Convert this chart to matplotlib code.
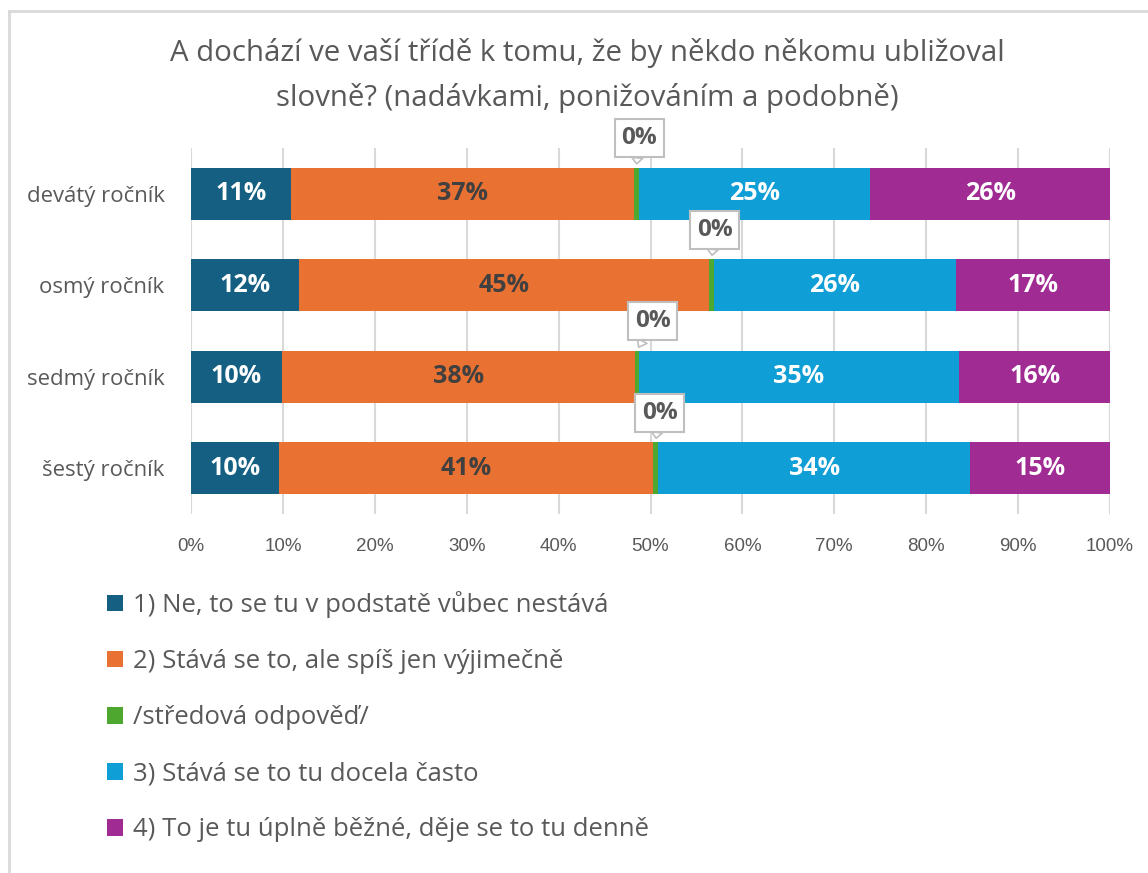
import matplotlib
matplotlib.use("Agg")
import matplotlib.pyplot as plt
from matplotlib.lines import Line2D
import numpy as np

plt.rcParams['font.family'] = ['Open Sans', 'DejaVu Sans']

categories = ["devátý ročník", "osmý ročník", "sedmý ročník", "šestý ročník"]
series_names = [
    "1) Ne, to se tu v podstatě vůbec nestává",
    "2) Stává se to, ale spíš jen výjimečně",
    "/středová odpověď/",
    "3) Stává se to tu docela často",
    "4) To je tu úplně běžné, děje se to tu denně",
]
values = [
    [10.9, 11.8, 9.9, 9.6],    # 1)
    [37.3, 44.6, 38.4, 40.7],  # 2)
    [0.5, 0.5, 0.4, 0.5],      # středová
    [25.2, 26.3, 34.9, 34.0],  # 3)
    [26.1, 16.8, 16.4, 15.2],  # 4)
]
labels = [
    ["11%", "12%", "10%", "10%"],
    ["37%", "45%", "38%", "41%"],
    ["0%", "0%", "0%", "0%"],
    ["25%", "26%", "35%", "34%"],
    ["26%", "17%", "16%", "15%"],
]
tick_values = list(range(0, 101, 10))

colors = ["#156082", "#E97132", "#4EA72E", "#0F9ED5", "#A02B93"]
label_colors = ["white", "#404040", "#595959", "white", "white"]
callout_dx = [3, 3, 16, 4]  # px offsets of the small-segment callouts

W, H = 1148, 873
fig = plt.figure(figsize=(W / 100, H / 100), dpi=100)
ax = fig.add_axes([191 / W, 1 - 514 / H, (1110 - 191) / W, (514 - 148) / H])

y = np.arange(len(categories))
left = np.zeros(len(categories))
bar_h = 0.565
for i, (name, vals) in enumerate(zip(series_names, values)):
    vals = np.array(vals)
    ax.barh(y, vals, left=left, height=bar_h, color=colors[i], label=name, zorder=3)
    for j in range(len(categories)):
        if i == 2:
            xc = left[j] + vals[j] / 2
            ax.annotate(labels[i][j], xy=(xc, y[j] - bar_h / 2),
                        xytext=(callout_dx[j] * 0.72, 17), textcoords='offset points',
                        ha='center', va='baseline', fontsize=17.5, fontweight='bold',
                        color=label_colors[i], zorder=6,
                        bbox=dict(boxstyle='square,pad=0.28', fc='white', ec='#bfbfbf', lw=1.5),
                        arrowprops=dict(arrowstyle='wedge,tail_width=0.45,shrink_factor=0.5',
                                        fc='white', ec='#bfbfbf', lw=1.2, shrinkA=0, shrinkB=3))
        else:
            ax.text(left[j] + vals[j] / 2, y[j], labels[i][j], ha='center', va='center',
                    fontsize=18, fontweight='bold', color=label_colors[i], zorder=5)
    left = left + vals

ax.set_xlim(0, 100)
ax.set_ylim(3.5, -0.5)
ax.set_yticks(y)
ax.set_yticklabels(categories, fontsize=15.9, color='#595959')
ax.set_xticks(tick_values)
ax.set_xticklabels([f"{v}%" for v in tick_values], fontsize=13.5, color='#595959',
                   family=['Liberation Sans', 'DejaVu Sans'])
ax.tick_params(axis='both', length=0)
ax.tick_params(axis='y', pad=19)
ax.tick_params(axis='x', pad=17)
for s in ax.spines.values():
    s.set_visible(False)
ax.grid(axis='x', color='#d9d9d9', lw=1.5, zorder=0)
ax.set_axisbelow(True)

fig.text(587 / W, 1 - 53 / H, "A dochází ve vaší třídě k tomu, že by někdo někomu ubližoval",
         ha='center', va='center', fontsize=21.2, color='#595959')
fig.text(587 / W, 1 - 98 / H, "slovně? (nadávkami, ponižováním a podobně)",
         ha='center', va='center', fontsize=21.2, color='#595959')

handles, lbls = ax.get_legend_handles_labels()
leg = fig.legend(handles, lbls, loc='upper left', bbox_to_anchor=(84 / W, 1 - 568 / H),
                 frameon=False, fontsize=18.5, handlelength=0.62, handleheight=0.62,
                 handletextpad=0.4, labelspacing=1.21, labelcolor='#595959')

# outer chart border (only top and left visible in the crop)
fig.add_artist(Line2D([9 / W, 9 / W], [0, 1 - 11 / H], transform=fig.transFigure, color='#d9d9d9', lw=2))
fig.add_artist(Line2D([9 / W, 1], [1 - 11 / H, 1 - 11 / H], transform=fig.transFigure, color='#d9d9d9', lw=2))

fig.savefig("out.png", dpi=100, facecolor='white')
